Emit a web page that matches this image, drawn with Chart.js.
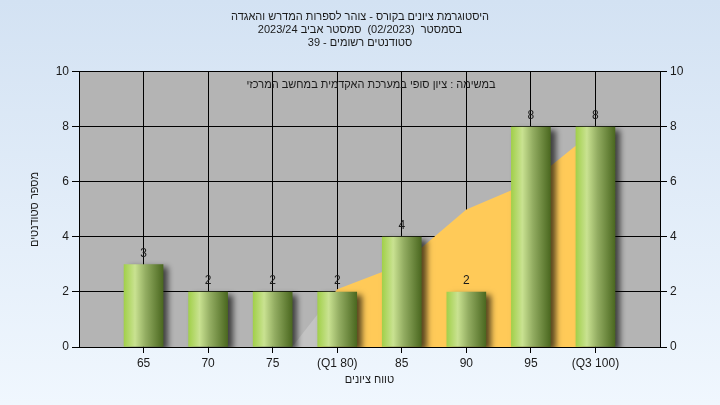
<!DOCTYPE html>
<html>
<head>
<meta charset="utf-8">
<script src="https://cdn.jsdelivr.net/npm/chart.js@4.4.1/dist/chart.umd.min.js"></script>
<style>
  html, body { margin: 0; padding: 0; }
  #wrap { width: 720px; height: 405px; }
  canvas { direction: rtl; }
</style>
</head>
<body>
<div id="wrap"><canvas id="hist" width="720" height="405"></canvas></div>
<script>
// נתוני ההיסטוגרמה
const categories = ['65', '70', '75', '(Q1 80)', '85', '90', '95', '(Q3 100)'];
const students = [3, 2, 2, 2, 4, 2, 8, 8];

// אזור הרקע הכתום (מיקום על ציר x לפי מספר קטגוריה)
const areaX = [3.3, 4, 5, 6, 7, 8];
const areaY = [0, 2.1, 3.0, 5.0, 6.0, 7.9];

const titleLines = [
    'היסטוגרמת ציונים בקורס - צוהר לספרות המדרש והאגדה',
    'בסמסטר  (02/2023)  סמסטר אביב 2023/24',
    'סטודנטים רשומים - 39'
];
const subTitle = 'במשימה : ציון סופי במערכת האקדמית במחשב המרכזי';
const yTitle = 'מספר סטודנטים';
const xTitle = 'טווח ציונים';

const BAR_W = 39;
const FONT = 'Liberation Sans, Arial, sans-serif';

// רקע כללי של הדף
const bgPlugin = {
    id: 'bg',
    beforeDraw(chart) {
        const c = chart.ctx;
        const g = c.createLinearGradient(0, 0, 0, chart.height);
        g.addColorStop(0, '#d3e2f3');
        g.addColorStop(1, '#f0f7fe');
        c.save();
        c.fillStyle = g;
        c.fillRect(0, 0, chart.width, chart.height);
        const a = chart.chartArea;
        c.fillStyle = '#b4b4b4';
        c.fillRect(a.left, a.top, a.right - a.left, a.bottom - a.top);
        c.restore();
    }
};

// צל לעמודות
const shadowPlugin = {
    id: 'barShadow',
    beforeDatasetDraw(chart, args) {
        if (args.meta.type !== 'bar') return;
        const c = chart.ctx;
        c.save();
        c.shadowColor = 'rgba(0,0,0,0.65)';
        c.shadowBlur = 6;
        c.shadowOffsetX = 5;
        c.shadowOffsetY = 3;
    },
    afterDatasetDraw(chart, args) {
        if (args.meta.type !== 'bar') return;
        chart.ctx.restore();
    }
};

// מספרים מעל העמודות + כותרת המשנה בתוך האזור
const labelsPlugin = {
    id: 'labels',
    afterDatasetsDraw(chart) {
        const c = chart.ctx;
        const meta = chart.getDatasetMeta(1);
        c.save();
        c.font = '12px ' + FONT;
        c.fillStyle = '#1a1a1a';
        c.textAlign = 'center';
        c.textBaseline = 'middle';
        meta.data.forEach((bar, i) => {
            c.fillText(students[i], bar.x, bar.y - 11);
        });
        c.font = '11px ' + FONT;
        const a = chart.chartArea;
        c.fillText(subTitle, a.left + 292, a.top + 13);
        c.restore();
    }
};

function barGradient(ctx) {
    const chart = ctx.chart;
    if (!chart.chartArea || ctx.dataIndex === undefined) return '#9fcf4a';
    const x = chart.scales.x.getPixelForValue(ctx.dataIndex + 1);
    const g = chart.ctx.createLinearGradient(x - BAR_W / 2, 0, x + BAR_W / 2, 0);
    g.addColorStop(0, '#a2d04b');
    g.addColorStop(0.28, '#c9e291');
    g.addColorStop(0.55, '#93ad62');
    g.addColorStop(1, '#4b6820');
    return g;
}

function areaFill(ctx) {
    const chart = ctx.chart;
    const a = chart.chartArea;
    if (!a) return '#ffca58';
    const cut = chart.scales.x.getPixelForValue(4) - BAR_W / 2;
    const t = (cut - a.left) / (a.right - a.left);
    const g = chart.ctx.createLinearGradient(a.left, 0, a.right, 0);
    g.addColorStop(0, '#c3c3c3');
    g.addColorStop(t, '#c3c3c3');
    g.addColorStop(t, '#ffca58');
    g.addColorStop(1, '#ffca58');
    return g;
}

new Chart(document.getElementById('hist'), {
    data: {
        datasets: [
            {
                type: 'line',
                data: areaX.map((x, i) => ({ x: x, y: areaY[i] })),
                fill: 'origin',
                backgroundColor: areaFill,
                borderWidth: 0,
                pointRadius: 0,
                tension: 0,
                order: 2
            },
            {
                type: 'bar',
                data: students.map((v, i) => ({ x: i + 1, y: v })),
                backgroundColor: barGradient,
                borderWidth: 0,
                barThickness: BAR_W,
                order: 1
            }
        ]
    },
    options: {
        responsive: false,
        animation: false,
        devicePixelRatio: 1,
        layout: { padding: 0 },
        plugins: {
            legend: { display: false },
            tooltip: { enabled: false },
            title: {
                display: true,
                text: titleLines,
                color: '#1a1a1a',
                font: { size: 11, family: FONT, weight: 'normal', lineHeight: 1.15 },
                padding: { top: 11, bottom: 23 }
            }
        },
        scales: {
            x: {
                type: 'linear',
                min: 0,
                max: 9,
                offset: false,
                afterFit(s) { s.height = 58; },
                afterBuildTicks(s) {
                    s.ticks = categories.map((c, i) => ({ value: i + 1 }));
                },
                ticks: {
                    callback: (v) => categories[v - 1] || '',
                    color: '#1a1a1a',
                    font: { size: 12, family: FONT },
                    padding: 3,
                    maxRotation: 0,
                    autoSkip: false
                },
                grid: { color: '#000', lineWidth: 1, tickLength: 6, offset: false, drawOnChartArea: true },
                border: { color: '#000', width: 1 },
                title: {
                    display: true,
                    text: xTitle,
                    color: '#1a1a1a',
                    font: { size: 11, family: FONT },
                    padding: { top: 0, bottom: 18 }
                }
            },
            y: {
                position: 'left',
                min: 0,
                max: 10,
                afterFit(s) { s.width = 79; },
                ticks: {
                    stepSize: 2,
                    color: '#1a1a1a',
                    font: { size: 12, family: FONT },
                    padding: 3
                },
                grid: { color: '#000', lineWidth: 1, tickLength: 7 },
                border: { color: '#000', width: 1 },
                title: {
                    display: true,
                    text: yTitle,
                    color: '#1a1a1a',
                    font: { size: 11, family: FONT },
                    padding: { top: 28, bottom: 0 }
                }
            },
            y2: {
                position: 'right',
                min: 0,
                max: 10,
                afterFit(s) { s.width = 60; },
                ticks: {
                    stepSize: 2,
                    color: '#1a1a1a',
                    font: { size: 12, family: FONT },
                    padding: 3
                },
                grid: { color: '#000', lineWidth: 1, tickLength: 7, drawOnChartArea: false },
                border: { color: '#000', width: 1 }
            }
        }
    },
    plugins: [bgPlugin, shadowPlugin, labelsPlugin]
});
</script>
</body>
</html>
